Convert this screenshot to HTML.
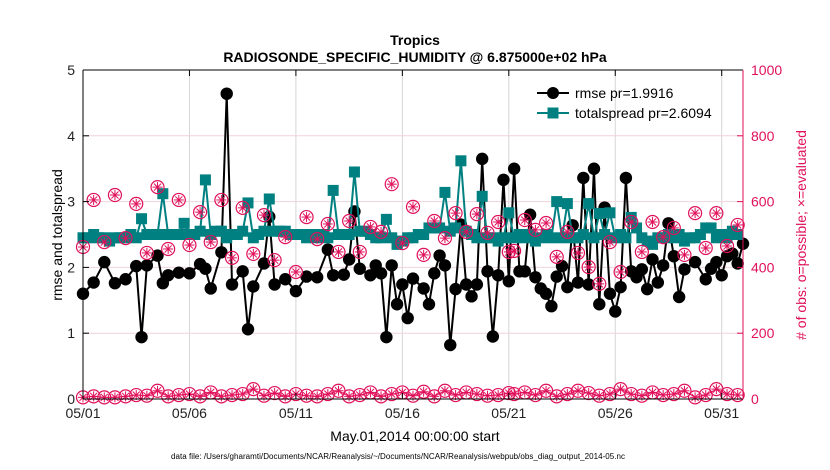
<!DOCTYPE html>
<html><head><meta charset="utf-8"><style>
body{margin:0;background:#fff;}
svg{display:block;font-family:"Liberation Sans",sans-serif;}
</style></head><body>
<svg id="chart" width="830" height="470" viewBox="0 0 830 470">
<text x="415" y="45" text-anchor="middle" font-size="14" font-weight="bold">Tropics</text>
<text x="415" y="62" text-anchor="middle" font-size="14" font-weight="bold">RADIOSONDE_SPECIFIC_HUMIDITY @ 6.875000e+02 hPa</text>
<g id="grid"></g>
<g id="marks"></g>
<g id="axes"></g>
<text x="415" y="441" text-anchor="middle" font-size="14">May.01,2014 00:00:00 start</text>
<text x="398" y="459" text-anchor="middle" font-size="8" textLength="454">data file: /Users/gharamti/Documents/NCAR/Reanalysis/~/Documents/NCAR/Reanalysis/webpub/obs_diag_output_2014-05.nc</text>
<text transform="translate(62,235) rotate(-90)" text-anchor="middle" font-size="14">rmse and totalspread</text>
<text transform="translate(806,235) rotate(-90)" text-anchor="middle" font-size="14" fill="#e0105a"># of obs: o=possible; ×=evaluated</text>
<g>
<line x1="537" y1="93" x2="569" y2="93" stroke="#000" stroke-width="2"/>
<circle cx="553" cy="93" r="6" fill="#000"/>
<text x="575" y="98" font-size="14">rmse pr=1.9916</text>
<line x1="537" y1="113" x2="569" y2="113" stroke="#008080" stroke-width="2"/>
<rect x="547.5" y="107.5" width="11" height="11" fill="#008080"/>
<text x="575" y="118" font-size="14">totalspread pr=2.6094</text>
</g>
</svg>
<script>
const xTickLabels=["05/01","05/06","05/11","05/16","05/21","05/26","05/31"];
const xTickDays=[0,5,10,15,20,25,30];
const leftTicks=[0,1,2,3,4,5];
const rightTicks=[0,200,400,600,800,1000];
const rmseDays=[0,0.5,1,1.5,2,2.5,2.75,3,3.5,3.75,4,4.5,5,5.5,5.75,6,6.5,6.75,7,7.5,7.75,8,8.5,8.75,9,9.5,10,10.5,11,11.5,11.75,12.25,12.5,12.75,13,13.5,13.75,14,14.25,14.5,14.75,15,15.25,15.5,16,16.25,16.5,16.75,17,17.25,17.5,17.75,18,18.25,18.5,18.75,19,19.25,19.5,19.75,20,20.25,20.5,20.75,21,21.25,21.5,21.75,22,22.25,22.5,22.75,23,23.25,23.5,23.75,24,24.25,24.5,24.75,25,25.25,25.5,25.75,26,26.25,26.5,26.75,27,27.25,27.5,27.75,28,28.25,28.75,29.25,29.5,29.75,30,30.25,30.5,30.75,31];
const rmseVals=[1.6,1.77,2.08,1.76,1.82,2.02,0.94,2.03,2.18,1.76,1.88,1.92,1.91,2.05,1.98,1.68,2.23,4.64,1.74,1.94,1.06,1.71,2.06,2.77,1.74,1.82,1.64,1.86,1.85,2.27,1.88,1.89,2.12,2.85,1.98,1.88,2.03,1.91,0.94,2.03,1.44,1.74,1.23,1.83,1.68,1.44,1.91,2.18,2.03,0.82,1.67,2.65,1.74,1.56,1.74,3.65,1.94,0.95,1.88,3.33,1.79,3.5,1.94,1.94,2.8,1.85,1.68,1.6,1.41,1.86,2.02,1.7,2.64,1.77,3.36,1.74,3.5,1.44,2.91,1.6,1.33,1.7,3.36,1.94,1.85,1.97,1.67,2.12,1.77,2.03,2.67,2.17,1.55,1.97,2.08,1.82,1.98,2.08,1.88,2.17,2.21,2.06,2.36];
const spreadVals=[2.45,2.45,2.5,2.45,2.45,2.4,2.45,2.45,2.45,2.5,2.45,2.74,2.5,2.5,2.5,3.12,2.5,2.5,2.5,2.67,
2.5,2.5,2.55,3.33,2.5,2.55,2.55,2.45,2.5,2.5,2.55,2.98,2.45,2.5,2.55,3.04,2.55,2.55,2.55,2.5,
2.5,2.5,2.45,2.5,2.45,2.5,2.45,3.17,2.5,2.5,2.5,3.45,2.55,2.55,2.5,2.45,2.45,2.73,2.45,2.35,
2.4,2.45,2.45,2.5,2.5,2.6,2.6,2.6,3.14,2.55,2.6,3.62,2.55,2.5,2.45,3.08,2.45,2.45,2.4,2.45,
2.83,2.45,2.5,2.45,2.5,2.4,2.45,2.5,2.45,3.0,2.45,2.97,2.45,2.45,2.5,2.97,2.45,2.82,2.5,2.83,
2.45,2.5,2.45,2.76,2.6,2.45,2.4,2.35,2.45,2.45,2.5,2.45,2.5,2.4,2.45,2.45,2.5,2.6,2.6,2.45,2.5,2.45,2.55,2.5];
const obsDays=[0,0.5,1,1.5,2,2.5,3,3.5,4,4.5,5,5.5,6,6.5,7,7.5,8,8.5,9,9.5,10,10.5,11,11.5,12,12.5,13,13.5,14,14.5,15,15.5,16,16.5,17,17.5,18,18.5,19,19.5,20,20.25,20.75,21.25,21.75,22.25,22.75,23.25,23.75,24.25,24.75,25.25,25.75,26.25,26.75,27.25,27.75,28.25,28.75,29.25,29.75,30.25,30.75];
const obsPossible=[462,605,477,620,489,593,444,644,456,605,468,568,477,605,429,581,441,559,422,492,386,553,486,532,447,541,447,523,508,653,474,584,438,541,489,565,508,562,505,538,447,450,544,514,535,432,508,444,401,350,477,386,538,447,538,492,520,438,565,459,565,465,529];
const obsLow=[5,8,5,5,8,12,10,25,8,12,15,8,20,8,12,15,30,10,18,8,15,10,8,15,25,8,12,20,8,15,20,10,22,8,25,12,20,15,10,12,18,15,20,12,25,8,15,25,18,10,15,30,15,10,20,12,15,25,5,12,30,15,12];

const NS="http://www.w3.org/2000/svg";
const L=83,R=743,T=70,B=399;
const X=d=>L+d*(R-L)/31;
const Y=v=>B-v*(B-T)/5;
const YR=n=>B-n*(B-T)/1000;
function mk(tag,attrs,parent){const e=document.createElementNS(NS,tag);for(const k in attrs)e.setAttribute(k,attrs[k]);parent.appendChild(e);return e;}
const grid=document.getElementById('grid'),marks=document.getElementById('marks'),axes=document.getElementById('axes');
xTickDays.forEach((d,i)=>{
  const g=mk('line',{x1:X(d),x2:X(d),y1:T,y2:B,stroke:'#d6d6d6','stroke-width':1},grid);
  
  
  mk('line',{x1:X(d),x2:X(d),y1:B,y2:B-6,stroke:'#000'},axes);
  mk('line',{x1:X(d),x2:X(d),y1:T,y2:T+6,stroke:'#000'},axes);
  const t=mk('text',{x:X(d),y:B+19,'text-anchor':'middle','font-size':14,fill:'#222'},axes);
  t.textContent=xTickLabels[i];
  
  
});
rightTicks.forEach(n=>{
  if(n>0&&n<1000){const g=mk('line',{x1:L,x2:R,y1:YR(n),y2:YR(n),stroke:'#f0d2dc','stroke-width':1},grid);
  
  }
  mk('line',{x1:R,x2:R-6,y1:YR(n),y2:YR(n),stroke:'#e0105a'},axes);
  const t=mk('text',{x:R+8,y:YR(n)+5,'font-size':14,fill:'#e0105a'},axes);
  t.textContent=n;
  
  
});
leftTicks.forEach(v=>{
  mk('line',{x1:L,x2:L+6,y1:Y(v),y2:Y(v),stroke:'#000'},axes);
  const t=mk('text',{x:L-8,y:Y(v)+5,'text-anchor':'end','font-size':14,fill:'#222'},axes);
  t.textContent=v;
  
  
});
mk('line',{x1:L,x2:L,y1:T,y2:B,stroke:'#000'},axes);
mk('line',{x1:L,x2:R,y1:T,y2:T,stroke:'#000'},axes);
mk('line',{x1:L,x2:R,y1:B,y2:B,stroke:'#000'},axes);
mk('line',{x1:R,x2:R,y1:T,y2:B,stroke:'#e0105a'},axes);

function obsMarker(cx,cy){
  const g=mk('g',{},marks);
  
  
  mk('circle',{cx:cx,cy:cy,r:6.5,fill:'none',stroke:'#e0105a','stroke-width':1.2},g);
  for(let a=0;a<180;a+=45){const r=a*Math.PI/180;mk('line',{x1:cx-5*Math.cos(r),y1:cy-5*Math.sin(r),x2:cx+5*Math.cos(r),y2:cy+5*Math.sin(r),stroke:'#e0105a','stroke-width':1},g);}
}
const lowLine=mk('polyline',{points:obsDays.map((d,i)=>X(d)+','+YR(obsLow[i])).join(' '),fill:'none',stroke:'#e0105a','stroke-width':1},marks);


obsDays.forEach((d,i)=>obsMarker(X(d),YR(obsLow[i])));
const rl=mk('polyline',{points:rmseDays.map((d,i)=>X(d)+','+Y(rmseVals[i])).join(' '),fill:'none',stroke:'#000','stroke-width':2},marks);


rmseDays.forEach((d,i)=>{const c=mk('circle',{cx:X(d),cy:Y(rmseVals[i]),r:6.2,fill:'#000'},marks);
  
  });
const sl=mk('polyline',{points:spreadVals.map((v,i)=>X(i*0.25)+','+Y(v)).join(' '),fill:'none',stroke:'#008080','stroke-width':2},marks);


spreadVals.forEach((v,i)=>{const r=mk('rect',{x:X(i*0.25)-5.5,y:Y(v)-5.5,width:11,height:11,fill:'#008080'},marks);
  
  });
obsDays.forEach((d,i)=>obsMarker(X(d),YR(obsPossible[i])));
</script>
</body></html>
